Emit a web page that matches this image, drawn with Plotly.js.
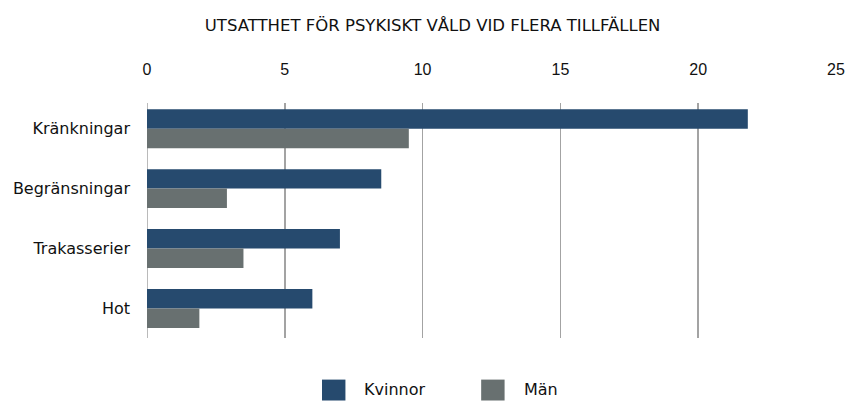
<!DOCTYPE html>
<html>
<head>
<meta charset="utf-8">
<script src="https://cdn.plot.ly/plotly-3.0.1.min.js"></script>
<style>html,body{margin:0;padding:0;background:#fff;}#chart{width:845px;height:401px;}</style>
</head>
<body>
<div id="chart"></div>
<script>
const categories = ["Kränkningar", "Begränsningar", "Trakasserier", "Hot"];
const kvinnor = [21.8, 8.5, 7.0, 6.0];
const man = [9.5, 2.9, 3.5, 1.9];
const seriesNames = ["Kvinnor", "Män"];
const xTicks = [0, 5, 10, 15, 20, 25];

const colK = "#264A6E";
const colM = "#687070";
const FONT = "DejaVu Sans, Liberation Sans, Arial, sans-serif";
const TICKFONT = "Liberation Sans, Arial, Helvetica, sans-serif";

const traces = [
  {type: "bar", orientation: "h", name: seriesNames[0], y: categories, x: kvinnor,
   marker: {color: colK}, showlegend: false, hoverinfo: "x+y"},
  {type: "bar", orientation: "h", name: seriesNames[1], y: categories, x: man,
   marker: {color: colM}, showlegend: false, hoverinfo: "x+y"}
];

const layout = {
  width: 845, height: 401,
  margin: {l: 147, r: 9, t: 103, b: 63},
  paper_bgcolor: "#fff", plot_bgcolor: "#fff",
  font: {family: FONT, size: 16, color: "#111"},
  title: {text: "UTSATTHET FÖR PSYKISKT VÅLD VID FLERA TILLFÄLLEN",
          font: {family: FONT, size: 16.5, color: "#111"},
          x: 0.512, xref: "container", xanchor: "center",
          y: 0.9377, yref: "container", yanchor: "middle"},
  barmode: "group", bargap: 0.35, bargroupgap: 0,
  xaxis: {side: "top", range: [0, 25], tickvals: xTicks, ticktext: xTicks.map(String),
          showgrid: true, gridcolor: "#a3a3a3", gridwidth: 1.5,
          zeroline: false, showline: false, ticks: "", ticklabelstandoff: 24,
          tickfont: {family: TICKFONT, size: 16, color: "#111"}, fixedrange: true},
  yaxis: {type: "category", range: [3.494, -0.429], showgrid: false, zeroline: false,
          showline: false, ticks: "", ticklabelstandoff: 16,
          tickfont: {family: FONT, size: 16, color: "#111"}, fixedrange: true},
  shapes: [
    {type: "line", xref: "x", yref: "paper", x0: 0, x1: 0, y0: 0, y1: 1,
     line: {color: "#a3a3a3", width: 1.5}, layer: "below"},
    {type: "rect", xref: "paper", yref: "paper", x0: 0.254, x1: 0.288, y0: -0.177, y1: -0.266,
     fillcolor: colK, line: {width: 0}},
    {type: "rect", xref: "paper", yref: "paper", x0: 0.485, x1: 0.519, y0: -0.177, y1: -0.266,
     fillcolor: colM, line: {width: 0}}
  ],
  annotations: [
    {xref: "paper", yref: "paper", x: 0.3116, y: -0.221, xanchor: "left", yanchor: "middle",
     text: seriesNames[0], showarrow: false, font: {family: FONT, size: 16, color: "#111"}},
    {xref: "paper", yref: "paper", x: 0.5438, y: -0.221, xanchor: "left", yanchor: "middle",
     text: seriesNames[1], showarrow: false, font: {family: FONT, size: 16, color: "#111"}}
  ]
};

Plotly.newPlot("chart", traces, layout, {displayModeBar: false, staticPlot: true});
</script>
</body>
</html>
